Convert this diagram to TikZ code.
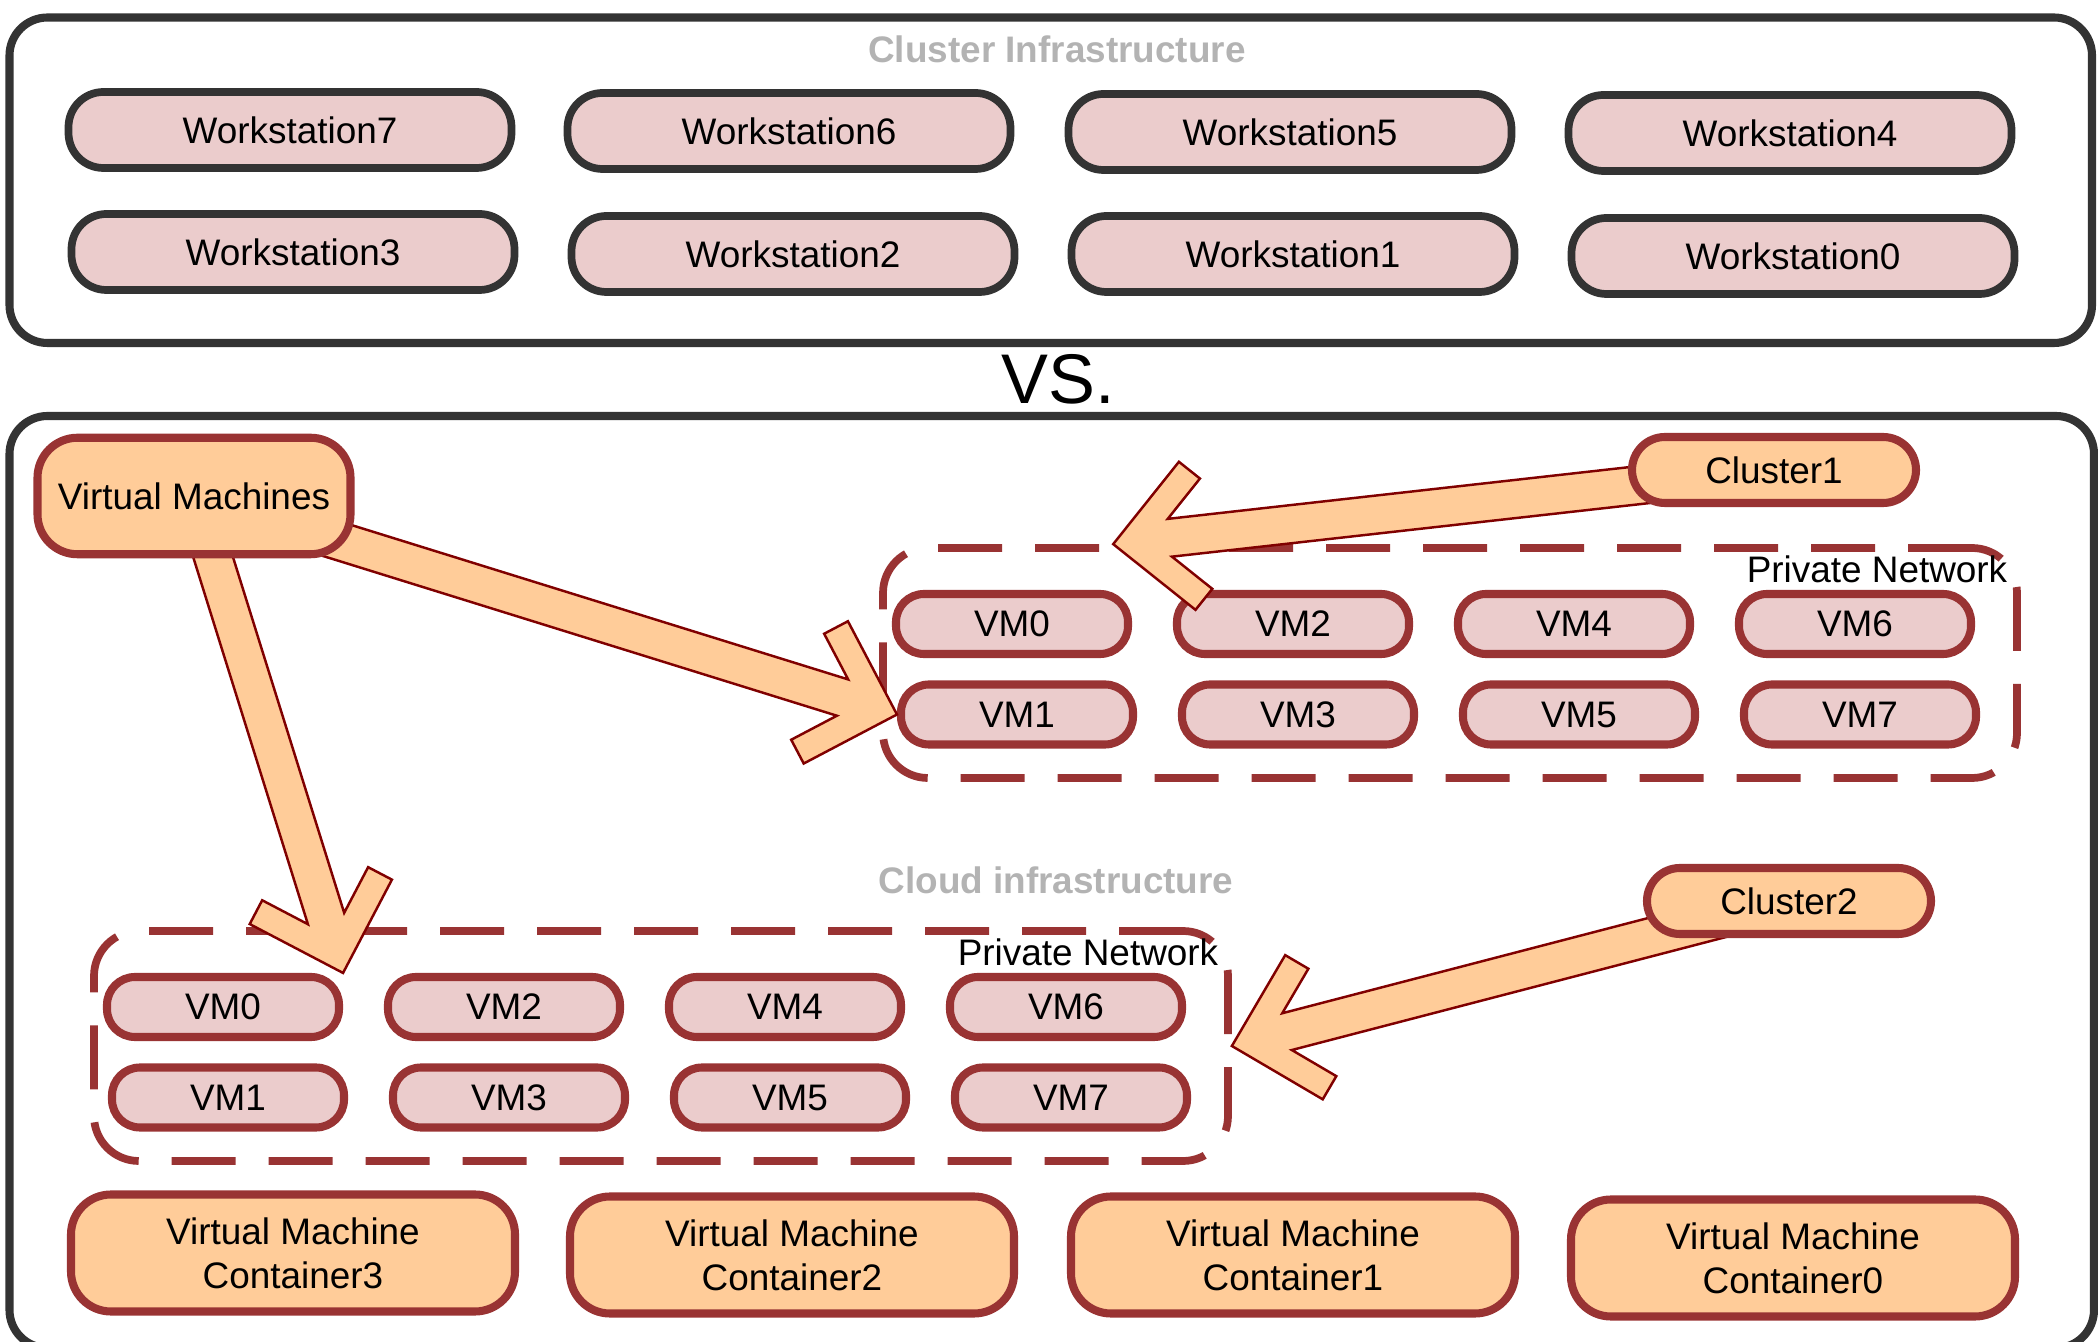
\documentclass[tikz,border=0pt]{standalone}
\usepackage{fontspec}
\setmainfont{Liberation Sans}
\usetikzlibrary{calc}

\definecolor{framegray}{HTML}{333333}
\definecolor{wspink}{HTML}{EBCCCC}
\definecolor{vmred}{HTML}{993333}
\definecolor{vmorange}{HTML}{FFCC99}
\definecolor{arrowred}{HTML}{800000}
\definecolor{titlegray}{HTML}{B3B3B3}

\pgfdeclarelayer{back}
\pgfdeclarelayer{arrows}
\pgfsetlayers{back,arrows,main}

% block arrow from #1 to #2, tip lands on #2
\newcommand\fatarrow[2]{%
  \path (#1) coordinate (fa tail) (#2) coordinate (fa tip);
  \pgfpointdiff{\pgfpointanchor{fa tail}{center}}{\pgfpointanchor{fa tip}{center}}%
  \pgfgetlastxy{\fadx}{\fady}%
  \pgfmathsetmacro\falen{veclen(\fadx,\fady)/28.4527559}%
  \pgfmathsetmacro\faang{atan2(\fady,\fadx)}%
  \draw[fat arrow, shift={(fa tip)}, rotate=\faang]
    (0,0) -- (-0.745,0.745) -- (-0.935,0.555) -- (-0.57,0.19) -- (-\falen,0.19)
    -- (-\falen,-0.19) -- (-0.57,-0.19) -- (-0.935,-0.555) -- (-0.745,-0.745) -- cycle;
}

\begin{document}
\begin{tikzpicture}[font=\fontsize{10.5}{12.6}\selectfont]
\tikzset{frame/.style = {draw=framegray, line width=2.3pt, rounded corners=0.38cm}}
\tikzset{title/.style = {text=titlegray, font=\fontsize{10.5}{12.6}\selectfont\bfseries}}
\tikzset{ws/.style = {draw=framegray, fill=wspink, line width=2.2pt, rounded corners=0.35cm,
    minimum width=4.43cm, minimum height=0.76cm}}
\tikzset{vmbox/.style = {draw=vmred, fill=wspink, line width=2.3pt, rounded corners=0.28cm,
    minimum width=2.32cm, minimum height=0.60cm}}
\tikzset{src/.style = {draw=vmred, fill=vmorange, line width=2.3pt, align=center}}
\tikzset{vmc/.style = {src, rounded corners=0.4cm, minimum width=4.44cm, minimum height=1.17cm}}
\tikzset{cluster/.style = {src, rounded corners=0.33cm, minimum width=2.84cm, minimum height=0.66cm}}
\tikzset{privnet/.style = {draw=vmred, line width=2.2pt, dash pattern=on 0.64cm off 0.33cm,
    rounded corners=0.45cm, minimum width=11.34cm, minimum height=2.30cm}}
\tikzset{fat arrow/.style = {fill=vmorange, draw=arrowred, line width=0.7pt, line join=miter}}

\useasboundingbox (0,0) rectangle (20.98,13.42);

% cluster part
\draw[frame] (0.095,9.99) rectangle (20.92,13.245);
\node[title] (clustertitle) at (10.57,12.93) {Cluster Infrastructure};
\foreach \n/\x/\y in {7/2.90/12.12, 6/7.89/12.11, 5/12.90/12.10, 4/17.90/12.09,
                      3/2.93/10.90, 2/7.93/10.88, 1/12.93/10.88, 0/17.93/10.86}
  \node[ws] (ws\n) at (\x,\y) {Workstation\n};

\node[font=\fontsize{20}{24}\selectfont] (vs) at (10.58,9.63) {VS.};

% cloud part
\draw[frame] (0.095,-0.06) rectangle (20.94,9.26);
\node[title] (cloudtitle) at (10.56,4.62) {Cloud infrastructure};

\begin{pgfonlayer}{back}
\foreach \g/\dx/\dy in {a/0/0, b/-7.89/-3.83} {
  \begin{scope}[shift={(\dx,\dy)}]
    \node[privnet] (net\g) at (14.50,6.79) {};
    \node (lbl\g) at (18.77,7.73) {Private Network};
    \foreach \i [evaluate=\i as \vmtop using int(2*\i), evaluate=\i as \vmbot using int(2*\i+1)] in {0,...,3} {
      \node[vmbox] (vm\g\vmtop) at (10.12+2.81*\i,7.18) {VM\vmtop};
      \node[vmbox] (vm\g\vmbot) at (10.17+2.81*\i,6.275) {VM\vmbot};
    }
  \end{scope}
}
\end{pgfonlayer}

\foreach \n/\x/\y in {3/2.93/0.89, 2/7.92/0.87, 1/12.93/0.87, 0/17.93/0.84}
  \node[vmc] (vmc\n) at (\x,\y) {Virtual Machine\\Container\n};

\node[src, rounded corners=0.4cm, minimum width=3.13cm, minimum height=1.165cm] (vms) at (1.94,8.46) {Virtual Machines};
\node[cluster] (cl1) at (17.74,8.72) {Cluster1};
\node[cluster] (cl2) at (17.89,4.41) {Cluster2};

\begin{pgfonlayer}{arrows}
\fatarrow{vms.center}{vma1.west}
\fatarrow{vms.center}{vmb0.north east}
\fatarrow{cl1.center}{$(neta.north west)!0.205!(neta.north east)$}
\fatarrow{cl2.center}{netb.east}
\end{pgfonlayer}

\end{tikzpicture}
\end{document}
